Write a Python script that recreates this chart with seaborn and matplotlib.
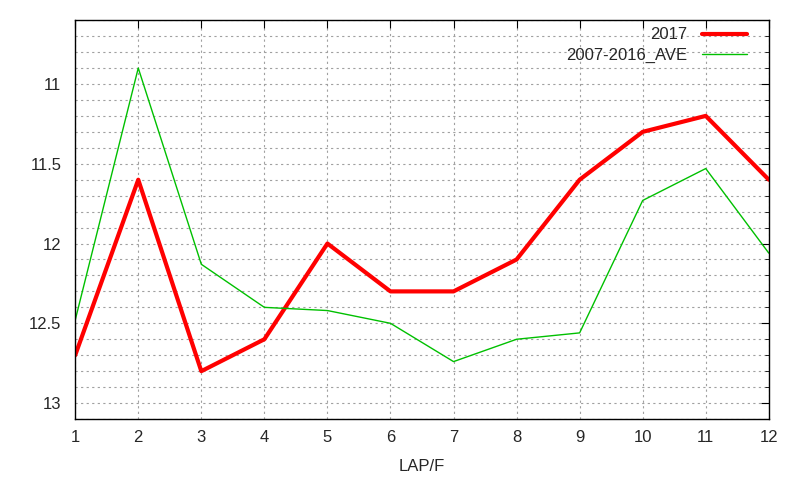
import pandas as pd
import numpy as np
import seaborn as sns
import matplotlib.pyplot as plt
from matplotlib.ticker import MultipleLocator

# data
laps = [1, 2, 3, 4, 5, 6, 7, 8, 9, 10, 11, 12]
y2017 = [12.70, 11.60, 12.80, 12.60, 12.00, 12.30, 12.30, 12.10, 11.60, 11.30, 11.20, 11.60]
ave = [12.48, 10.90, 12.13, 12.40, 12.42, 12.50, 12.74, 12.60, 12.56, 11.73, 11.53, 12.06]

df = pd.DataFrame({'LAP/F': laps, '2017': y2017, '2007-2016_AVE': ave})

sns.set_style('white')
plt.rcParams['font.family'] = ['Liberation Sans', 'DejaVu Sans']

fig = plt.figure(figsize=(8, 4.8), dpi=100)
ax = fig.add_axes([0.094, 0.127, 0.867, 0.831])

sns.lineplot(x='LAP/F', y='2017', data=df, color='#ff0000', lw=3, label='2017', ax=ax)
sns.lineplot(x='LAP/F', y='2007-2016_AVE', data=df, color='#00c000', lw=1, label='2007-2016_AVE', ax=ax)

ax.set_xlim(1, 12)
ax.set_ylim(13.1, 10.6)
ax.set_xticks(laps)
ax.yaxis.set_major_locator(MultipleLocator(0.5))
ax.yaxis.set_minor_locator(MultipleLocator(0.1))
ax.yaxis.set_major_formatter(plt.FuncFormatter(lambda v, p: f'{v:g}'))

ax.grid(True, which='both', axis='y', color='#a0a0a0', ls=(0, (2, 3)), lw=0.8)
ax.grid(True, which='major', axis='x', color='#a0a0a0', ls=(0, (2, 3)), lw=0.8)
ax.tick_params(which='both', direction='in', top=True, right=True, labelsize=12, length=6, color='black')
ax.tick_params(which='minor', length=3)
ax.tick_params(axis='x', pad=8)
ax.tick_params(axis='y', pad=10)
for s in ax.spines.values():
    s.set_color('black')
    s.set_linewidth(1)

ax.set_xlabel('LAP/F', fontsize=12, labelpad=10)
ax.set_ylabel('')

leg = ax.legend(loc='upper right', bbox_to_anchor=(0.973, 0.99), frameon=False, markerfirst=False,
                fontsize=12, handlelength=2.7, handletextpad=0.85, borderaxespad=0, borderpad=0.2,
                labelspacing=0.3)
for t in leg.get_texts():
    t.set_ha('right')

fig.savefig('out.png', dpi=100)
